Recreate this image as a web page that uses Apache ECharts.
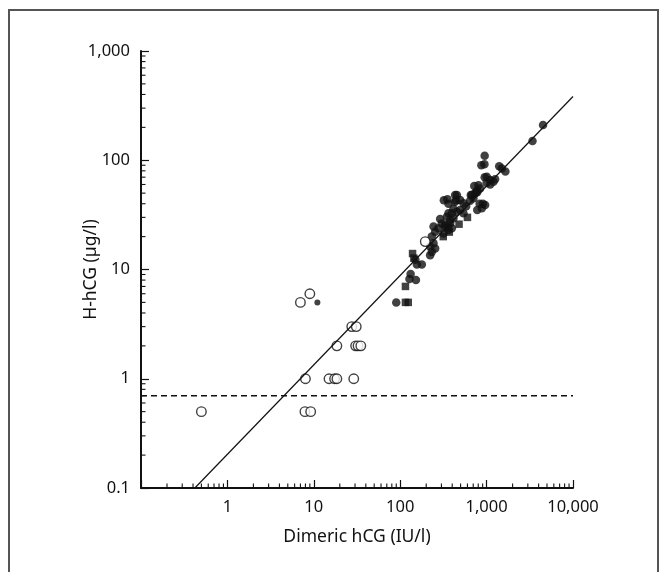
<!DOCTYPE html>
<html>
<head>
<meta charset="utf-8">
<script src="https://cdn.jsdelivr.net/npm/echarts@6/dist/echarts.min.js"></script>
<style>html,body{margin:0;padding:0;background:#fff}#c{width:668px;height:572px}</style>
</head>
<body>
<div id="c"></div>
<script>
// ---- data ----
const xTitle = 'Dimeric hCG (IU/l)';
const yTitle = 'H-hCG (µg/l)';
const xRange = [0.1, 10000];
const yRange = [0.1, 1000];
const cutoff = 0.7;
const regressionLine = [[0.42, 0.1], [10000, 383]];
const openCircles = [
  [0.5, 0.5], [7, 5], [9, 6], [8, 1], [15, 1], [17.4, 1], [18.5, 1], [29, 1],
  [18.5, 2], [27.5, 3], [31, 3], [30.5, 2], [32.5, 2], [35, 2], [7.9, 0.5], [9.2, 0.5], [195, 18]
];
const smallDots = [[11, 5]];
const filledCircles = [
  [90, 5], [132, 9.1], [128, 8.2], [152, 8.0], [156, 11.1], [178, 11.1], [150, 12.3],
  [232, 20], [243, 17.4], [222, 16.2], [254, 15.6], [232, 14.5], [222, 13.5],
  [243, 24.7], [277, 23.8], [303, 26.4], [254, 22.2], [331, 24.7], [396, 23.8], [379, 26.4],
  [331, 25.5], [362, 23], [317, 21.4], [290, 29], [347, 30.4], [379, 28.4], [362, 32.7],
  [413, 36], [453, 33.8], [396, 32.7], [413, 29.4], [494, 35], [540, 32.7],
  [352, 44], [320, 43], [362, 40], [432, 48], [444, 43], [453, 48], [432, 41.8],
  [494, 43.2], [540, 40.3], [580, 38], [656, 48], [704, 44.9], [674, 48], [736, 49.8], [645, 42.7],
  [904, 40], [880, 36.3], [962, 38.9], [830, 40], [780, 35],
  [804, 59], [841, 55], [771, 52.6], [720, 58], [780, 51],
  [1005, 70.8], [1097, 66], [1199, 63.6], [1254, 67], [950, 70], [1100, 60], [1000, 62],
  [944, 92], [870, 90], [950, 110], [1400, 88], [1500, 84], [1650, 79],
  [3400, 150], [4500, 210]
];
const squares = [
  [115, 5], [124, 5], [115, 7], [139, 14], [144, 12.7], [315, 20], [370, 22], [360, 24], [480, 26], [600, 30]
];
const minorMultipliers = [2, 3, 4, 5, 6, 7, 8, 9];
const xMinorDecades = [0.1, 1, 10, 100, 1000];
const yMinorDecades = [0.1, 1, 10, 100];

// ---- build ----
const xMinor = [];
xMinorDecades.forEach(d => minorMultipliers.forEach(m => xMinor.push([+(d * m).toPrecision(3), yRange[0]])));
const yMinor = [];
yMinorDecades.forEach(d => minorMultipliers.forEach(m => yMinor.push([xRange[0], +(d * m).toPrecision(3)])));

const FONT = 'Noto Sans';
const INK = '#111';
function fmt(v) {
  if (v < 1) return String(+v.toPrecision(2));
  return Math.round(v).toLocaleString('en-US');
}

const chart = echarts.init(document.getElementById('c'), null, {renderer: 'canvas'});
chart.setOption({
  animation: false,
  backgroundColor: '#fff',
  grid: {left: 141, right: 95, top: 51, bottom: 84, containLabel: false},
  graphic: [{
    type: 'polyline', silent: true,
    shape: {points: [[9, 600], [9, 10], [658, 10], [658, 600]]},
    style: {stroke: '#555', lineWidth: 2, fill: null}
  }],
  xAxis: {
    type: 'log', logBase: 10, min: xRange[0], max: xRange[1],
    name: xTitle, nameLocation: 'middle', nameGap: 40, nameMoveOverlap: false,
    nameTextStyle: {fontFamily: FONT, fontSize: 17.5, color: INK},
    axisLine: {lineStyle: {color: INK, width: 2}},
    axisTick: {inside: true, length: 8, lineStyle: {color: INK, width: 1.2}},
    axisLabel: {margin: 11, fontFamily: FONT, fontSize: 16.5, color: INK,
      formatter: v => (v < 0.5 ? '' : fmt(v))},
    splitLine: {show: false}
  },
  yAxis: {
    type: 'log', logBase: 10, min: yRange[0], max: yRange[1],
    name: yTitle, nameLocation: 'middle', nameGap: 41, nameMoveOverlap: false,
    nameTextStyle: {fontFamily: FONT, fontSize: 17.5, color: INK},
    axisLine: {lineStyle: {color: INK, width: 2}},
    axisTick: {inside: true, length: 8, lineStyle: {color: INK, width: 1.2}},
    axisLabel: {margin: 11, fontFamily: FONT, fontSize: 16.5, color: INK, formatter: fmt},
    splitLine: {show: false}
  },
  series: [
    {
      type: 'custom', name: 'xMinor', data: xMinor, clip: false, silent: true,
      encode: {x: 0, y: 1},
      renderItem: (params, api) => {
        const p = api.coord([api.value(0), api.value(1)]);
        return {type: 'line', shape: {x1: p[0], y1: p[1], x2: p[0], y2: p[1] - 4.5},
          style: {stroke: INK, lineWidth: 1.1}};
      }
    },
    {
      type: 'custom', name: 'yMinor', data: yMinor, clip: false, silent: true,
      encode: {x: 0, y: 1},
      renderItem: (params, api) => {
        const p = api.coord([api.value(0), api.value(1)]);
        return {type: 'line', shape: {x1: p[0], y1: p[1], x2: p[0] + 4.5, y2: p[1]},
          style: {stroke: INK, lineWidth: 1.1}};
      }
    },
    {
      type: 'line', name: 'cutoff', data: [[xRange[0], cutoff], [xRange[1], cutoff]],
      symbol: 'none', silent: true,
      lineStyle: {color: INK, width: 1.5, type: [6, 4]}
    },
    {
      type: 'line', name: 'regression', data: regressionLine, symbol: 'none', silent: true,
      lineStyle: {color: INK, width: 1.2}
    },
    {
      type: 'scatter', name: 'squares', data: squares, symbol: 'rect', symbolSize: 7.5,
      itemStyle: {color: INK}
    },
    {
      type: 'scatter', name: 'filled', data: filledCircles, symbol: 'circle', symbolSize: 8.5,
      itemStyle: {color: INK}
    },
    {
      type: 'scatter', name: 'small', data: smallDots, symbol: 'circle', symbolSize: 6,
      itemStyle: {color: INK}
    },
    {
      type: 'scatter', name: 'open', data: openCircles, symbol: 'circle', symbolSize: 9.5,
      itemStyle: {color: '#fff', borderColor: INK, borderWidth: 1.4}
    }
  ]
});
</script>
</body>
</html>
